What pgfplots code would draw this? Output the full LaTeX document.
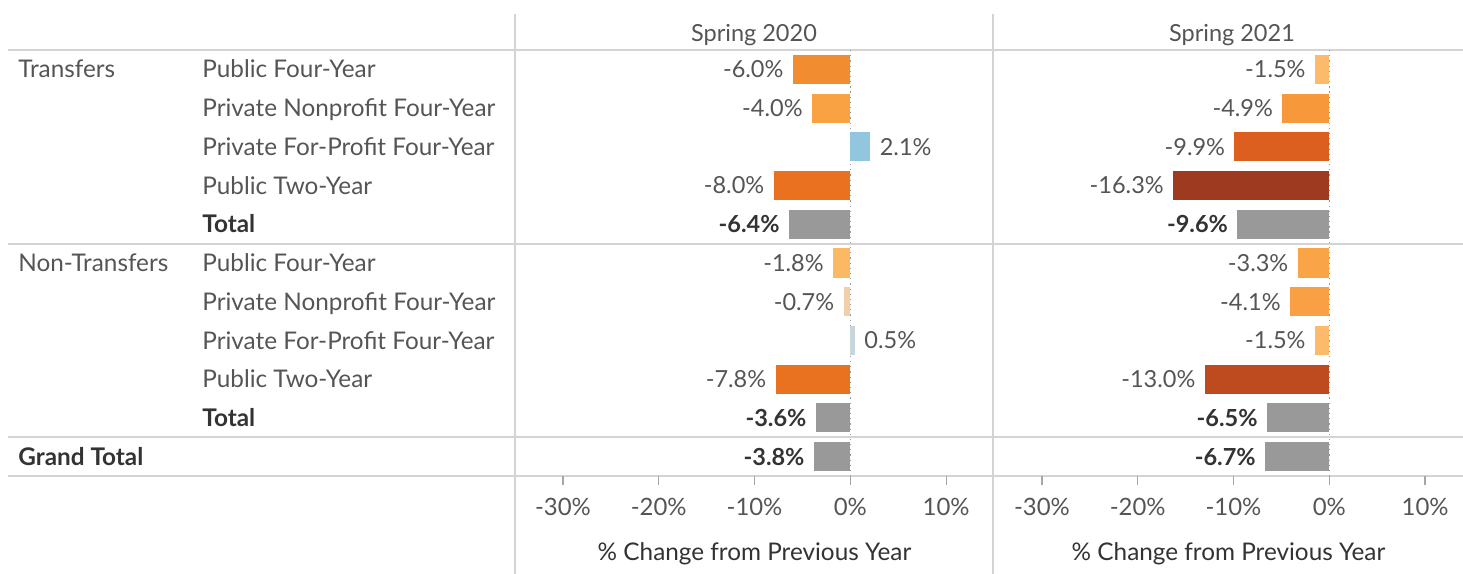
\documentclass[border=0pt]{standalone}
\usepackage{fontspec}
\setmainfont{Lato}
\usepackage{pgfplots}
\pgfplotsset{compat=1.18}
\definecolor{o1}{HTML}{F28C30}
\definecolor{o2}{HTML}{F9A243}
\definecolor{b1}{HTML}{92C5DE}
\definecolor{o3}{HTML}{E9711F}
\definecolor{tg}{HTML}{999999}
\definecolor{o4}{HTML}{FDB863}
\definecolor{o5}{HTML}{F1CFA8}
\definecolor{b2}{HTML}{C8D6DC}
\definecolor{o6}{HTML}{E97220}
\definecolor{p1}{HTML}{FDBA6A}
\definecolor{p2}{HTML}{F7993B}
\definecolor{p3}{HTML}{DC5F20}
\definecolor{p4}{HTML}{9D3A1F}
\definecolor{p5}{HTML}{FAA448}
\definecolor{p6}{HTML}{F9A044}
\definecolor{p7}{HTML}{BE4B20}
\definecolor{txt}{HTML}{555555}
\definecolor{dtxt}{HTML}{333333}
\definecolor{rule}{HTML}{D4D4D4}
\newcommand{\fs}{\fontsize{11.8}{14}\selectfont}
\newcommand{\hb}[3]{\addplot[fill=#3] coordinates {(#1,#2)};}
\newcommand{\tb}[2]{\addplot[fill=tg, every node near coord/.append style={font=\fs\bfseries, text=dtxt}] coordinates {(#1,#2)};}
\pgfplotsset{
  panel/.style={
    xbar, scale only axis, anchor=north west,
    height=213bp, ymin=-0.5, ymax=10.5, y dir=reverse,
    xmin=-35,
    bar width=0.75,
    axis line style={draw=none},
    ytick=\empty,
    xtick={-30,-20,-10,0,10},
    xticklabel={\pgfmathprintnumber{\tick}\%},
    tick align=outside, xtick pos=bottom,
    major tick length=4.5bp,
    tick style={draw=black!35, line width=0.6bp},
    xticklabel style={text=txt, font=\fontsize{12}{14}\selectfont, yshift=-3bp},
    xlabel={\% Change from Previous Year},
    xlabel style={text=dtxt, font=\fontsize{12.2}{14}\selectfont, yshift=-6.5bp},
    clip=false,
    every axis plot/.append style={bar shift=0pt, draw=none},
    nodes near coords={\pgfmathprintnumber[fixed,fixed zerofill,precision=1]{\pgfplotspointmeta}\%},
    nodes near coords align=horizontal,
    every node near coord/.append style={font=\fs, text=txt, inner sep=4.5bp},
    point meta=x,
    /pgf/number format/assume math mode=true,
  }
}
\tikzset{rowlab/.style={anchor=base west, inner sep=0pt, yshift=-4.3bp, font=\fontsize{12.2}{14}\selectfont}}
\begin{document}
\begin{tikzpicture}
\useasboundingbox (0,0) rectangle (731.5bp,-287bp);
% rules
\foreach \yy in {50,244,437,476} \draw[rule, line width=0.9bp] (4bp,-\yy*0.5bp) -- (731.5bp,-\yy*0.5bp);
\foreach \xx in {515,993} \draw[rule, line width=0.9bp] (\xx*0.5bp,-7bp) -- (\xx*0.5bp,-287bp);
% headers
\node[text=txt, font=\fs, anchor=base, yshift=-4.2bp] at (754*0.5bp,-33*0.5bp) {Spring 2020};
\node[text=txt, font=\fs, anchor=base, yshift=-4.2bp] at (1232*0.5bp,-33*0.5bp) {Spring 2021};
% row labels
\foreach \i/\lab in {0/Public Four-Year,1/Private Nonprofit Four-Year,2/Private For-Profit Four-Year,3/Public Two-Year,5/Public Four-Year,6/Private Nonprofit Four-Year,7/Private For-Profit Four-Year,8/Public Two-Year}
  \node[rowlab, text=txt] at (202*0.5bp, {-(50+38.73*(\i+0.5))*0.5bp}) {\lab};
\foreach \i in {4,9}
  \node[rowlab, text=dtxt, font=\fontsize{12.2}{14}\selectfont\bfseries] at (202*0.5bp, {-(50+38.73*(\i+0.5))*0.5bp}) {Total};
\node[rowlab, text=txt] at (18*0.5bp, {-(50+38.73*0.5)*0.5bp}) {Transfers};
\node[rowlab, text=txt] at (18*0.5bp, {-(50+38.73*5.5)*0.5bp}) {Non-Transfers};
\node[rowlab, text=dtxt, font=\fontsize{12.2}{14}\selectfont\bfseries] at (18*0.5bp, {-(50+38.73*10.5)*0.5bp}) {Grand Total};

\begin{axis}[panel, at={(257.5bp,-25bp)}, width=239.5bp, xmax=15]
\draw[black!40, dotted, line width=0.6bp] (axis cs:0,-0.5) -- (axis cs:0,10.5);
\hb{-6.0}{0}{o1}
\hb{-4.0}{1}{o2}
\hb{2.1}{2}{b1}
\hb{-8.0}{3}{o3}
\tb{-6.4}{4}
\hb{-1.8}{5}{o4}
\hb{-0.7}{6}{o5}
\hb{0.5}{7}{b2}
\hb{-7.8}{8}{o6}
\tb{-3.6}{9}
\tb{-3.8}{10}
\end{axis}

\begin{axis}[panel, at={(497bp,-25bp)}, width=234.5bp, xmax=13.96]
\draw[black!40, dotted, line width=0.6bp] (axis cs:0,-0.5) -- (axis cs:0,10.5);
\hb{-1.5}{0}{p1}
\hb{-4.9}{1}{p2}
\hb{-9.9}{2}{p3}
\hb{-16.3}{3}{p4}
\tb{-9.6}{4}
\hb{-3.3}{5}{p5}
\hb{-4.1}{6}{p6}
\hb{-1.5}{7}{p1}
\hb{-13.0}{8}{p7}
\tb{-6.5}{9}
\tb{-6.7}{10}
\end{axis}
\end{tikzpicture}
\end{document}
